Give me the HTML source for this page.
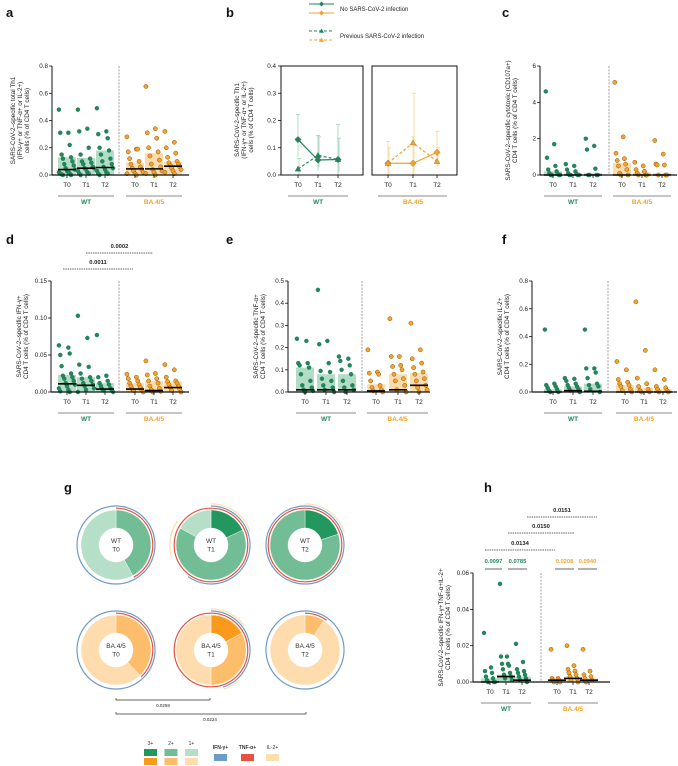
<!DOCTYPE html>
<html><head><meta charset="utf-8"><style>
body{margin:0;background:#fff}
svg{display:block;font-family:"Liberation Sans",sans-serif}
</style></head><body>
<svg id="fig" width="678" height="766" viewBox="0 0 678 766" xmlns="http://www.w3.org/2000/svg">
<g font-weight="bold" font-size="13" fill="#111">
<text x="6" y="17">a</text>
<text x="226" y="17">b</text>
<text x="502" y="17">c</text>
<text x="6" y="244">d</text>
<text x="226" y="244">e</text>
<text x="502" y="244">f</text>
<text x="64" y="492">g</text>
<text x="484" y="492">h</text>
</g>
</svg>
<script>
const NS="http://www.w3.org/2000/svg";
const svg=document.getElementById('fig');
function el(tag,attrs,parent,txt){const e=document.createElementNS(NS,tag);for(const k in attrs)e.setAttribute(k,attrs[k]);if(txt!==undefined)e.textContent=txt;(parent||svg).appendChild(e);return e;}
const GREEN="#21875a",GREENBAR="#a9d9c0",ORANGE="#f6a228",ORANGEBAR="#fcd8a6";
const timeLabels=["T0","T1","T2"];

// ---- Panel a data ----
const aTicks=[0,0.2,0.4,0.6,0.8];
const aValues=[
[0.48,0.31,0.31,0.22,0.15,0.13,0.12,0.1,0.08,0.07,0.05,0.04,0.03,0.02,0.02,0.01,0.01,0.005,0,0],
[0.48,0.34,0.32,0.2,0.15,0.12,0.1,0.09,0.08,0.06,0.05,0.05,0.04,0.03,0.02,0.01,0.01,0],
[0.49,0.32,0.3,0.27,0.2,0.18,0.15,0.12,0.1,0.08,0.06,0.05,0.04,0.03,0.02,0.01,0.01,0],
[0.28,0.19,0.17,0.19,0.12,0.1,0.08,0.06,0.05,0.04,0.03,0.02,0.01,0.01,0],
[0.65,0.34,0.31,0.27,0.2,0.17,0.14,0.11,0.08,0.06,0.04,0.03,0.02,0.01,0],
[0.32,0.24,0.2,0.16,0.13,0.1,0.09,0.08,0.07,0.06,0.05,0.04,0.03,0.02,0.01]];
const aBars=[0.13,0.125,0.18,0.09,0.16,0.1];
const aMedians=[0.04,0.05,0.055,0.045,0.045,0.065];
// ---- Panel c ----
const cTicks=[0,2,4,6];
const cValues=[
[4.6,1.7,0.95,0.5,0.3,0.2,0.1,0.05,0,0,0,0],
[0.6,0.5,0.3,0.2,0.1,0.05,0,0,0,0],
[2.0,1.6,1.4,0.35,0,0,0,0],
[5.1,2.1,1.2,0.9,0.8,0.6,0.5,0.3,0.1,0,0],
[0.7,0.5,0.3,0.2,0.1,0,0,0],
[1.9,1.15,0.6,0.55,0.55,0,0,0]];
const cBars=[0.2,0.08,0.1,0.65,0.15,0.1];
const cMedians=[0,0,0,0,0,0];
// ---- Panel d ----
const dTicks=[0,0.05,0.1,0.15];
const dValues=[
[0.063,0.06,0.05,0.052,0.035,0.025,0.022,0.02,0.018,0.015,0.012,0.01,0.008,0.005,0.003,0.001,0],
[0.103,0.073,0.037,0.034,0.025,0.02,0.018,0.015,0.012,0.01,0.008,0.005,0.003,0],
[0.077,0.022,0.02,0.015,0.012,0.01,0.008,0.005,0.004,0.003,0.002,0],
[0.024,0.02,0.018,0.015,0.012,0.01,0.008,0.006,0.004,0.003,0.002,0],
[0.042,0.025,0.023,0.018,0.015,0.012,0.008,0.005,0.003,0.001,0],
[0.037,0.03,0.02,0.015,0.014,0.012,0.01,0.008,0.006,0.004,0.002,0]];
const dBars=[0.023,0.02,0.012,0.012,0.015,0.014];
const dMedians=[0.011,0.009,0.004,0.004,0.002,0.006];
// ---- Panel e ----
const eTicks=[0,0.1,0.2,0.3,0.4,0.5];
const eValues=[
[0.24,0.23,0.13,0.13,0.12,0.11,0.08,0.05,0.03,0.02,0.01,0.005,0],
[0.46,0.23,0.215,0.13,0.095,0.09,0.06,0.05,0.03,0.02,0.01,0],
[0.16,0.15,0.14,0.12,0.1,0.08,0.05,0.03,0.02,0.01,0],
[0.19,0.09,0.085,0.08,0.05,0.03,0.02,0.01,0.005,0],
[0.33,0.16,0.16,0.12,0.115,0.1,0.08,0.06,0.05,0.03,0.01,0],
[0.31,0.19,0.15,0.13,0.11,0.09,0.08,0.06,0.05,0.03,0.02,0.01,0]];
const eBars=[0.11,0.08,0.08,0.035,0.08,0.085];
const eMedians=[0.01,0.01,0.01,0.005,0.01,0.03];
// ---- Panel f ----
const fTicks=[0,0.2,0.4,0.6,0.8];
const fValues=[
[0.45,0.06,0.05,0.04,0.03,0.02,0.01,0,0],
[0.1,0.095,0.08,0.06,0.05,0.04,0.03,0.02,0.01,0],
[0.45,0.17,0.17,0.14,0.1,0.06,0.05,0.04,0.02,0],
[0.22,0.16,0.09,0.07,0.06,0.05,0.04,0.02,0.01,0],
[0.65,0.3,0.1,0.06,0.04,0.02,0.01,0,0],
[0.16,0.09,0.04,0.03,0.02,0.01,0,0]];
const fBars=[0.02,0.04,0.06,0.05,0.03,0.02];
const fMedians=[0,0.01,0.005,0,0,0];
// ---- Panel h ----
const hTicks=[0,0.02,0.04,0.06];
const hValues=[
[0.027,0.008,0.006,0.005,0.003,0.002,0.001,0,0,0],
[0.054,0.014,0.014,0.01,0.01,0.009,0.007,0.005,0.004,0.003,0.002,0.001],
[0.021,0.011,0.007,0.006,0.005,0.004,0.003,0.002,0.001,0],
[0.018,0.002,0.002,0.001,0.001,0,0],
[0.02,0.009,0.007,0.006,0.005,0.004,0.003,0.002,0.001,0],
[0.018,0.006,0.004,0.003,0.002,0.001,0]];
const hBars=[0.002,0.004,0.003,0.001,0.003,0.002];
const hMedians=[0,0.003,0.001,0.001,0.002,0.001];
// ---- Panel b ----
const bNoInfWT=[0.13,0.055,0.057], bNoInfWTHi=[0.222,0.145,0.185], bNoInfWTLo=[0.065,0.015,0.0];
const bPrevWT=[0.022,0.072,0.057], bPrevWTHi=[0.06,0.14,0.135], bPrevWTLo=[0,0.03,0.01];
const bNoInfBA=[0.043,0.043,0.083], bNoInfBAHi=[0.123,0.14,0.16], bNoInfBALo=[0,0,0.03];
const bPrevBA=[0.043,0.118,0.05], bPrevBAHi=[0.1,0.3,0.1], bPrevBALo=[0,0,0.035];
const bTicks=[0,0.1,0.2,0.3,0.4];
// ---- Panel g ----
const gLabels=[["WT","T0"],["WT","T1"],["WT","T2"],["BA.4/5","T0"],["BA.4/5","T1"],["BA.4/5","T2"]];
const gFractions=[[0,0.42,0.58],[0.18,0.65,0.17],[0.2,0.8,0],[0,0.38,0.62],[0.17,0.33,0.5],[0,0.09,0.91]];
const gIFN=[[[0,1]],[[0,0.6]],[[0,1]],[[0,1]],[[0,0.45]],[[0,1]]];
const gTNF=[[[0,0.42]],[[0,1]],[[0,1]],[[0,0.38]],[[0,1]],[[0,0.1]]];
const gIL2=[[],[[0,0.2],[0.7,0.85]],[[0,0.2]],[],[[0,0.15],[0.38,0.45]],[]];

function fmt(v){return String(v);}
function ylabel(x,y,lines){
  const t=el('text',{x:0,y:0,'font-size':6.3,fill:'#222','text-anchor':'middle',transform:`translate(${x},${y}) rotate(-90)`});
  
  
  lines.forEach((l,i)=>{el('tspan',{x:0,dy:i?7:0},t,l);});
}
function groupLabels(xs,yTick,yLine){
  const g=el('g',{});
  
  
  xs.forEach((x,i)=>{el('text',{x:x,y:yTick,'font-size':6.5,'text-anchor':'middle',fill:'#222'},g,timeLabels[i%3]);});
  [[xs[0],xs[2],'WT',GREEN],[xs[3],xs[5],'BA.4/5',ORANGE]].forEach(([a,b,l,c])=>{
    el('line',{x1:a-9,x2:b+9,y1:yLine,y2:yLine,stroke:'#666','stroke-width':0.8},g);
    el('text',{x:(a+b)/2,y:yLine+8,'font-size':6.5,'font-weight':'bold','text-anchor':'middle',fill:c},g,l);
  });
}
function dotPanel(name,o,values,bars,meds,ticks,labelLines){
  const g=el('g',{});
  
  
  const max=ticks[ticks.length-1];
  const Y=v=>o.bottom-(v/max)*(o.bottom-o.top);
  values.forEach((vals,i)=>{
    const x=o.xs[i],c=i<3?GREENBAR:ORANGEBAR;
    const r=el('rect',{x:x-9,y:Y(bars[i]),width:18,height:o.bottom-Y(bars[i]),fill:c,opacity:0.9},g);
    
    
  });
  values.forEach((vals,i)=>{
    const x=o.xs[i];
    vals.forEach((v,j)=>{
      const off=((j*7)%13-6)*(o.spread||1.35);
      const d=el('circle',{cx:x+off,cy:Y(v),r:2.1,fill:i<3?GREEN:ORANGE,stroke:i<3?'#17664a':'#8a5a10','stroke-width':i<3?0.2:0.5},g);
      
      
    });
    const m=el('line',{x1:x-9,x2:x+9,y1:Y(meds[i]),y2:Y(meds[i]),stroke:'#000','stroke-width':1.6},g);
    
    
  });
  el('line',{x1:o.ax,x2:o.ax,y1:o.top,y2:o.bottom,stroke:'#111','stroke-width':1},g);
  el('line',{x1:o.ax,x2:o.right,y1:o.bottom,y2:o.bottom,stroke:'#111','stroke-width':1.2},g);
  ticks.forEach(t=>{
    el('line',{x1:o.ax-3,x2:o.ax,y1:Y(t),y2:Y(t),stroke:'#111','stroke-width':0.8},g);
    el('text',{x:o.ax-4,y:Y(t)+2,'font-size':6.3,'text-anchor':'end',fill:'#222'},g,o.fmt?o.fmt(t):fmt(t));
  });
  o.xs.forEach(x=>el('line',{x1:x,x2:x,y1:o.bottom,y2:o.bottom+3,stroke:'#111','stroke-width':0.8},g));
  el('line',{x1:o.dash,x2:o.dash,y1:o.top,y2:o.bottom,stroke:'#888','stroke-width':0.8,'stroke-dasharray':'2,1.3'},g);
  ylabel(o.ax-23-7*(labelLines.length-1),(o.top+o.bottom)/2,labelLines);
  groupLabels(o.xs,o.bottom+12,o.bottom+21);
  return Y;
}
const f1=v=>v.toFixed(1), f2=v=>v.toFixed(2);
dotPanel('panel-a-chart',{ax:52,top:66,bottom:175,right:189,xs:[67,86,105,135,154,173],dash:119,fmt:f1},aValues,aBars,aMedians,aTicks,["SARS-CoV-2–specific total Th1","(IFN-γ+ or TNF-α+ or IL-2+)","cells (% of CD4 T cells)"]);
dotPanel('panel-c-chart',{ax:540,top:66,bottom:175,right:677,xs:[553,573,593,622,642,662],dash:609,spread:1.2},cValues,cBars,cMedians,cTicks,["SARS-CoV-2–specific cytotoxic (CD107a+)","CD4 T cells (% of CD4 T cells)"]);
dotPanel('panel-d-chart',{ax:51,top:281,bottom:392,right:189,xs:[67,86,105,135,154,173],dash:119,fmt:f2},dValues,dBars,dMedians,dTicks,["SARS-CoV-2–specific IFN-γ+","CD4 T cells (% of CD4 T cells)"]);
dotPanel('panel-e-chart',{ax:288,top:281,bottom:392,right:430,xs:[305,326,347,376,398,419],dash:362,fmt:f1},eValues,eBars,eMedians,eTicks,["SARS-CoV-2–specific TNF-α+","CD4 T cells (% of CD4 T cells)"]);
dotPanel('panel-f-chart',{ax:532,top:281,bottom:392,right:677,xs:[553,573,593,625,644,663],dash:608,fmt:f1},fValues,fBars,fMedians,fTicks,["SARS-CoV-2–specific IL-2+","CD4 T cells (% of CD4 T cells)"]);
dotPanel('panel-h-chart',{ax:473,top:573,bottom:682,right:610,xs:[490,506,522,557,573,589],dash:541,fmt:f2,spread:1.0},hValues,hBars,hMedians,hTicks,["SARS-CoV-2–specific IFN-γ+TNF-α+IL-2+","CD4 T cells (% of CD4 T cells)"]);

function sigBar(x1,x2,y,label,name){
  const g=el('g',{});
  
  
  el('line',{x1:x1,x2:x2,y1:y,y2:y,stroke:'#333','stroke-width':0.7,'stroke-dasharray':'1.5,0.8'},g);
  el('text',{x:(x1+x2)/2,y:y-5,'font-size':5.8,'font-weight':'bold','text-anchor':'middle',fill:'#222'},g,label);
}
sigBar(63,133,269,'0.0011','sig-0011');
sigBar(86,153,253,'0.0002','sig-0002');
sigBar(485,555,550,'0.0134','sig-0134');
sigBar(508,574,533,'0.0150','sig-0150');
sigBar(527,597,517,'0.0151','sig-0151');
[[485,502,'0.0097',GREEN],[508,527,'0.0785',GREEN],[555,574,'0.0208',ORANGE],[578,597,'0.0940',ORANGE]].forEach(([a,b,l,c])=>{
  const g=el('g',{});
  
  
  el('line',{x1:a,x2:b,y1:569,y2:569,stroke:'#666','stroke-width':1},g);
  el('text',{x:(a+b)/2,y:563,'font-size':5.8,'font-weight':'bold','text-anchor':'middle',fill:c},g,l);
});

// ---- Panel b ----
(function(){
  const top=66,bottom=175,max=0.4;
  const Y=v=>bottom-(v/max)*(bottom-top);
  const boxes=[[281,363,[298,318,338],GREEN,'#9fd4b8',[bNoInfWT,bNoInfWTHi,bNoInfWTLo],[bPrevWT,bPrevWTHi,bPrevWTLo]],
               [372,457,[388,413,437],ORANGE,'#fbd49a',[bNoInfBA,bNoInfBAHi,bNoInfBALo],[bPrevBA,bPrevBAHi,bPrevBALo]]];
  boxes.forEach(([x1,x2,xs,c,lc,no,pr],bi)=>{
    const g=el('g',{});
    
    
    [no,pr].forEach(([m,hi,lo],si)=>{
      xs.forEach((x,i)=>{
        el('line',{x1:x+si,x2:x+si,y1:Y(hi[i]),y2:Y(lo[i]),stroke:lc,'stroke-width':0.8},g);
        el('line',{x1:x+si-2,x2:x+si+2,y1:Y(hi[i]),y2:Y(hi[i]),stroke:lc,'stroke-width':0.8},g);
      });
    });
    [no,pr].forEach(([m],si)=>{
      const p=el('polyline',{points:xs.map((x,i)=>`${x},${Y(m[i])}`).join(' '),fill:'none',stroke:c,'stroke-width':1.2,'stroke-dasharray':si?'3,2':'none'},g);
      
      
      xs.forEach((x,i)=>{
        const y=Y(m[i]);
        if(si===0) el('polygon',{points:`${x},${y-3.3} ${x+3.3},${y} ${x},${y+3.3} ${x-3.3},${y}`,fill:c,stroke:'#555','stroke-width':0.3},g);
        else el('polygon',{points:`${x},${y-3} ${x+3},${y+2.2} ${x-3},${y+2.2}`,fill:c,stroke:'#555','stroke-width':0.3},g);
      });
    });
    el('rect',{x:x1,y:top,width:x2-x1,height:bottom-top,fill:'none',stroke:'#111','stroke-width':1},g);
    xs.forEach(x=>el('line',{x1:x,x2:x,y1:bottom,y2:bottom+3,stroke:'#111','stroke-width':0.8},g));
    xs.forEach((x,i)=>el('text',{x:x,y:bottom+12,'font-size':6.5,'text-anchor':'middle',fill:'#222'},g,timeLabels[i]));
    el('line',{x1:xs[0]-10,x2:xs[2]+10,y1:196,y2:196,stroke:'#666','stroke-width':0.8},g);
    el('text',{x:xs[1],y:204,'font-size':6.5,'font-weight':'bold','text-anchor':'middle',fill:c},g,bi?'BA.4/5':'WT');
  });
  bTicks.forEach(t=>{el('line',{x1:278,x2:281,y1:Y(t),y2:Y(t),stroke:'#111','stroke-width':0.8});el('text',{x:276,y:Y(t)+2,'font-size':6.3,'text-anchor':'end',fill:'#222'},svg,t.toFixed(1));});
  ylabel(239,120,["SARS-CoV-2–specific Th1","(IFN-γ+ or TNF-α+ or IL-2+)","cells (% of CD4 T cells)"]);
  const lg=el('g',{});
  
  
  [[4,GREEN,0,'d'],[13,ORANGE,0,'d'],[31,GREEN,1,'t'],[40,ORANGE,1,'t']].forEach(([y,c,d,m])=>{
    el('line',{x1:309,x2:334,y1:y,y2:y,stroke:c,'stroke-width':1,'stroke-dasharray':d?'3,2':'none'},lg);
    if(m==='d') el('polygon',{points:`321.5,${y-2.5} 324,${y} 321.5,${y+2.5} 319,${y}`,fill:c},lg);
    else el('polygon',{points:`321.5,${y-2.5} 324,${y+1.8} 319,${y+1.8}`,fill:c},lg);
  });
  el('text',{x:340,y:11,'font-size':6,fill:'#222'},lg,'No SARS-CoV-2 infection');
  el('text',{x:340,y:38,'font-size':6,fill:'#222'},lg,'Previous SARS-CoV-2 infection');
})();

// ---- Panel g ----
(function(){
  const centers=[[116,545],[211,545],[305,545],[116,650],[211,650],[305,650]];
  const greens=['#22975e','#72bd95','#b6dfc8'], oranges=['#fa9a1c','#fdbd6a','#fedcae'];
  function arcPath(cx,cy,r,a0,a1){
    if(a1-a0>=0.9999){return `M${cx},${cy-r} A${r},${r} 0 1 1 ${cx},${cy+r} A${r},${r} 0 1 1 ${cx},${cy-r}`;}
    const p=a=>[cx+r*Math.sin(a*2*Math.PI),cy-r*Math.cos(a*2*Math.PI)];
    const [x0,y0]=p(a0),[x1,y1]=p(a1);
    return `M${x0},${y0} A${r},${r} 0 ${a1-a0>0.5?1:0} 1 ${x1},${y1}`;
  }
  function slice(cx,cy,ro,ri,a0,a1){
    if(a1-a0>=0.9999) return `M${cx},${cy-ro} A${ro},${ro} 0 1 1 ${cx},${cy+ro} A${ro},${ro} 0 1 1 ${cx},${cy-ro} M${cx},${cy-ri} A${ri},${ri} 0 1 0 ${cx},${cy+ri} A${ri},${ri} 0 1 0 ${cx},${cy-ri}Z`;
    const p=(r,a)=>[cx+r*Math.sin(a*2*Math.PI),cy-r*Math.cos(a*2*Math.PI)];
    const L=a1-a0>0.5?1:0;
    const [a,b]=p(ro,a0),[c,d]=p(ro,a1),[e,f]=p(ri,a1),[g,h]=p(ri,a0);
    return `M${a},${b} A${ro},${ro} 0 ${L} 1 ${c},${d} L${e},${f} A${ri},${ri} 0 ${L} 0 ${g},${h}Z`;
  }
  centers.forEach(([cx,cy],i)=>{
    const g=el('g',{});
    
    
    const cols=i<3?greens:oranges;
    let a=0;
    gFractions[i].forEach((f,k)=>{
      if(f<=0) return;
      const s=el('path',{d:slice(cx,cy,35,17,a,a+f),fill:cols[k],stroke:'#fff','stroke-width':0.4},g);
      
      
      a+=f;
    });
    [[gTNF,36.8,'#e8513f'],[gIFN,39,'#6d9cc8'],[gIL2,41.2,'#fbe0ac']].forEach(([arr,r,c])=>{
      arr[i].forEach(([a0,a1])=>{
        const p=el('path',{d:arcPath(cx,cy,r,a0,a1),fill:'none',stroke:c,'stroke-width':1.2},g);
        
        
      });
    });
    const t=el('text',{x:cx,y:cy-2,'font-size':6.5,'text-anchor':'middle',fill:'#333'},g);
    el('tspan',{x:cx,dy:0},t,gLabels[i][0]);
    el('tspan',{x:cx,dy:8.5},t,gLabels[i][1]);
  });
  [[116,210,700,'0.0259',163],[116,306,714,'0.0224',210]].forEach(([a,b,y,l,tx])=>{
    const g=el('g',{});
    
    
    el('path',{d:`M${a},${y-2}V${y}H${b}V${y-2}`,fill:'none',stroke:'#333','stroke-width':0.7},g);
    el('text',{x:tx,y:y+7,'font-size':4.5,'text-anchor':'middle',fill:'#222'},g,l);
  });
  const lg=el('g',{});
  
  
  ['3+','2+','1+'].forEach((l,k)=>{
    const x=144+k*20.5;
    el('text',{x:x+6.5,y:745,'font-size':5,'text-anchor':'middle',fill:'#333'},lg,l);
    el('rect',{x:x,y:749,width:13,height:7,fill:greens[k]},lg);
    el('rect',{x:x,y:758,width:13,height:7,fill:oranges[k]},lg);
  });
  [['IFN-γ+','#6d9cc8',214],['TNF-α+','#e8513f',241],['IL-2+','#fbe0ac',266]].forEach(([l,c,x])=>{
    el('text',{x:x+6.5,y:749,'font-size':5,'font-weight':l==='IL-2+'?'normal':'bold','text-anchor':'middle',fill:'#333'},lg,l);
    el('rect',{x:x,y:754,width:13,height:7,fill:c},lg);
  });
})();
</script>
</body></html>
